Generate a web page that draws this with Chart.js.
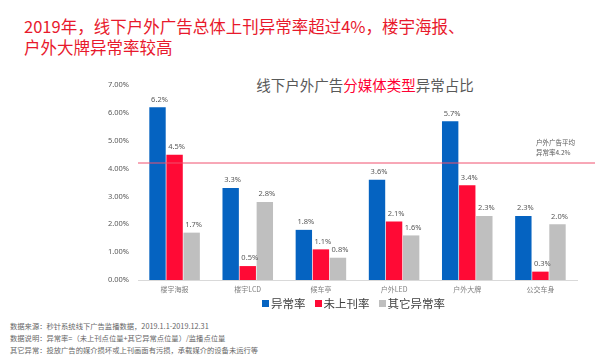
<!DOCTYPE html>
<html>
<head>
<meta charset="utf-8">
<script src="https://cdn.jsdelivr.net/npm/chart.js@4.4.1/dist/chart.umd.min.js"></script>
<style>
  html, body { margin:0; padding:0; background:#fff; width:600px; height:355px; overflow:hidden; font-family:"Noto Sans CJK SC","Noto Sans",sans-serif; }
  #heading { position:absolute; left:24px; top:16px; font-size:16.5px; line-height:21px; color:#e8192c; white-space:nowrap; }
  #ctitle { position:absolute; left:0; width:730px; top:74px; text-align:center; font-size:14.5px; color:#595959; white-space:nowrap; }
  #ctitle span { color:#ff0033; }
  #wrap { position:absolute; left:0; top:60px; width:600px; height:240px; }
  #legend { position:absolute; left:262px; top:295px; font-size:11.5px; color:#404040; white-space:nowrap; }
  #legend .it { display:inline-block; margin-right:9px; }
  #legend .sw { display:inline-block; width:7px; height:7px; margin-right:2px; vertical-align:1px; }
  #notes { position:absolute; left:10px; top:320px; font-size:7.3px; line-height:12px; color:#666; white-space:nowrap; }
</style>
</head>
<body>
<div id="heading">2019年，线下户外广告总体上刊异常率超过4%，楼宇海报、<br>户外大牌异常率较高</div>
<div id="ctitle">线下户外广告<span>分媒体类型</span>异常占比</div>
<div id="wrap"><canvas id="c" width="600" height="240"></canvas></div>
<div id="legend"></div>
<div id="notes">数据来源：秒针系统线下广告监播数据，2019.1.1-2019.12.31<br>数据说明：异常率=（未上刊点位量+其它异常点位量）/监播点位量<br>其它异常：投放广告的媒介损坏或上刊画面有污损，承载媒介的设备未运行等</div>
<script>
const categories = ["楼宇海报", "楼宇LCD", "候车亭", "户外LED", "户外大牌", "公交车身"];
const seriesNames = ["异常率", "未上刊率", "其它异常率"];
const abnormalRate = [6.2, 3.3, 1.8, 3.6, 5.7, 2.3];
const notPostedRate = [4.5, 0.5, 1.1, 2.1, 3.4, 0.3];
const otherRate = [1.7, 2.8, 0.8, 1.6, 2.3, 2.0];
const averageRate = 4.2;
const averageLabel = ["户外广告平均", "异常率4.2%"];
const yTicks = [0, 1, 2, 3, 4, 5, 6, 7];

const colors = ["#0563c1", "#ff0a35", "#bfbfbf"];

// HTML legend from series names
const lg = document.getElementById('legend');
seriesNames.forEach((n, i) => {
  const d = document.createElement('span');
  d.className = 'it';
  d.innerHTML = '<span class="sw" style="background:' + colors[i] + '"></span>' + n;
  lg.appendChild(d);
});

const valueLabels = {
  id: 'valueLabels',
  afterDatasetsDraw(chart) {
    const ctx = chart.ctx;
    ctx.save();
    ctx.font = '7.5px "Noto Sans", sans-serif';
    ctx.fillStyle = '#595959';
    ctx.textAlign = 'center';
    ctx.textBaseline = 'bottom';
    chart.data.datasets.forEach((ds, di) => {
      const meta = chart.getDatasetMeta(di);
      meta.data.forEach((bar, i) => {
        ctx.fillText(ds.data[i].toFixed(1) + '%', bar.x + 2, bar.y - 4);
      });
    });
    ctx.restore();
  }
};

const avgLine = {
  id: 'avgLine',
  afterDatasetsDraw(chart) {
    const ctx = chart.ctx;
    const y = chart.scales.y.getPixelForValue(averageRate);
    ctx.save();
    ctx.strokeStyle = '#f0506e';
    ctx.lineWidth = 1;
    ctx.beginPath();
    ctx.moveTo(chart.chartArea.left, y);
    ctx.lineTo(595, y);
    ctx.stroke();
    ctx.font = '6.5px "Noto Sans CJK SC", sans-serif';
    ctx.fillStyle = '#595959';
    ctx.textAlign = 'left';
    ctx.textBaseline = 'middle';
    ctx.fillText(averageLabel[0], 536, y - 20);
    ctx.fillText(averageLabel[1], 536, y - 10);
    ctx.restore();
  }
};

new Chart(document.getElementById('c'), {
  type: 'bar',
  data: {
    labels: categories,
    datasets: [
      { label: seriesNames[0], data: abnormalRate, backgroundColor: colors[0] },
      { label: seriesNames[1], data: notPostedRate, backgroundColor: colors[1] },
      { label: seriesNames[2], data: otherRate, backgroundColor: colors[2] }
    ]
  },
  options: {
    responsive: false,
    animation: false,
    devicePixelRatio: 1,
    layout: { padding: { top: 25, right: 23, bottom: 0, left: 0 } },
    plugins: { legend: { display: false }, title: { display: false }, tooltip: { enabled: false } },
    datasets: { bar: { categoryPercentage: 0.7, barPercentage: 0.96 } },
    scales: {
      x: {
        grid: { display: false, drawTicks: false },
        border: { display: true, color: '#d9d9d9' },
        ticks: { color: '#7f7f7f', font: { size: 7, family: '"Noto Sans CJK SC", sans-serif' }, padding: 5 },
        afterFit(s) { s.height = 20; }
      },
      y: {
        min: 0, max: 7,
        afterBuildTicks(s) { s.ticks = yTicks.map(v => ({ value: v })); },
        grid: { display: false, drawTicks: false },
        border: { display: false },
        ticks: { color: '#595959', font: { size: 7.5, family: '"Noto Sans", sans-serif' }, padding: 9,
          callback: v => v.toFixed(2) + '%' },
        afterFit(s) { s.width = 138; }
      }
    }
  },
  plugins: [valueLabels, avgLine]
});
</script>
</body>
</html>
